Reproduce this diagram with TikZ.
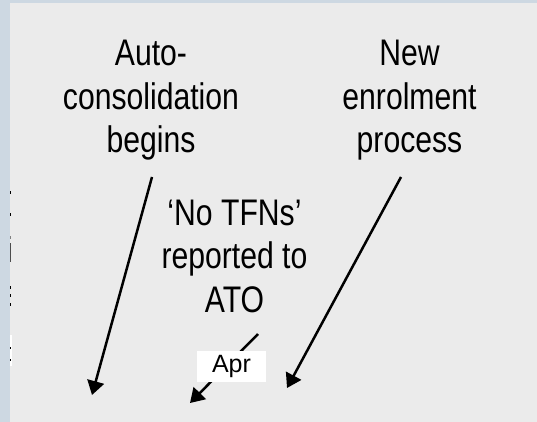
\documentclass[tikz,border=0pt]{standalone}
\usepackage{fontspec}
\setmainfont{Liberation Sans}
\newfontfamily\labelfont[FakeStretch=0.815]{Liberation Sans}
\usetikzlibrary{arrows.meta}
\definecolor{panelbg}{HTML}{EBEBEB}
\definecolor{framebg}{HTML}{CDD8E2}
\tikzset{
  callout/.style={align=center, inner sep=0pt, anchor=base,
    font=\labelfont\fontsize{37}{43.5}\selectfont},
  pointer/.style={line width=2.5pt, -{Triangle[length=14pt,width=17pt]}},
  datebox/.style={fill=white, inner sep=0pt, minimum width=69pt, minimum height=31pt,
    font=\fontsize{25}{30}\selectfont},
  tick/.style={fill=#1, draw=none}
}
\begin{document}
\begin{tikzpicture}[x=1pt, y=-1pt]
  % frame and panel
  \fill[framebg] (0,0) rectangle (537,422);
  \fill[panelbg] (10,3) rectangle (537,422);
  \useasboundingbox (0,0) rectangle (537,422);

  % small marks along the left edge of the panel
  \fill[tick=black] (10,191) rectangle (11,194);
  \fill[tick=black] (10,213) rectangle (11,216);
  \fill[tick=gray] (10,236) rectangle (11,239);
  \fill[tick=black!70] (10,243) rectangle (11,262);
  \fill[tick=black] (10,286) rectangle (11,289);
  \fill[tick=black] (10,294) rectangle (11,297);
  \fill[tick=black] (10,303) rectangle (11,306);
  \fill[tick=white] (10,335) rectangle (11.5,366);
  \fill[tick=black] (10,347) rectangle (11,349);
  \fill[tick=black] (10,359) rectangle (11,361);

  % labels
  \node[callout] (auto) at (151,153) {Auto-\\consolidation\\begins};
  \node[callout] (enrol) at (409.5,153) {New\\enrolment\\process};
  \node[callout] (notfn) at (234.5,312) {‘No TFNs’\\reported to\\ATO};

  % arrow end points
  \coordinate (autoS) at (152,177);
  \coordinate (autoE) at (92,395);
  \coordinate (enrolS) at (401,177);
  \coordinate (enrolE) at (287,388);
  \coordinate (notfnS) at (258,334);
  \coordinate (notfnE) at (190,403);

  \draw[pointer] (autoS) -- (autoE);
  \draw[pointer] (enrolS) -- (enrolE);
  \draw[pointer] (notfnS) -- (notfnE);

  % month tag sits over the middle arrow
  \node[datebox] (apr) at (231.5,366.5) {Apr};
\end{tikzpicture}
\end{document}
